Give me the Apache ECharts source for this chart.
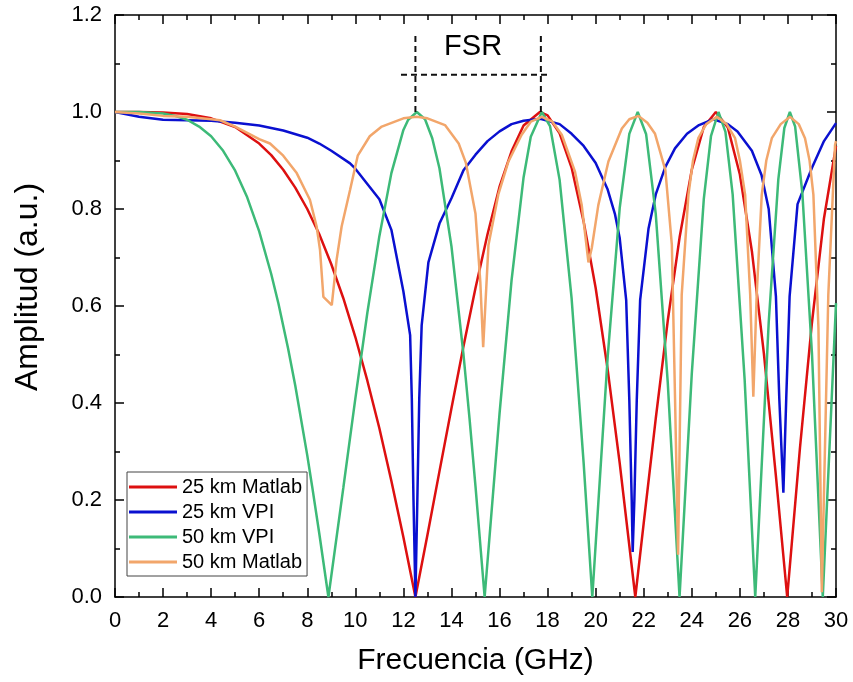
<!DOCTYPE html>
<html>
<head>
<meta charset="utf-8">
<script src="https://cdn.jsdelivr.net/npm/echarts@6/dist/echarts.min.js"></script>
<style>
  html, body { margin: 0; padding: 0; background: #fff; }
  #main { width: 853px; height: 682px; }
</style>
</head>
<body>
<div id="main"></div>
<script>
// datos
var names = ['25 km Matlab', '25 km VPI', '50 km VPI', '50 km Matlab'];

var fRed = [0,1,2,3,4,5,6,6.5,7,7.5,8,8.5,9,9.5,10,10.5,11,11.5,12,12.5,13,13.5,14,14.5,15,15.5,16,16.5,17,17.68,18,18.5,19,19.5,20,20.5,21,21.65,22,22.5,23,23.5,24,24.5,25,25.5,26,26.5,27,27.5,27.97,28.5,29,29.5,30];
var aRed = [1,1,0.999,0.996,0.987,0.969,0.935,0.911,0.881,0.844,0.800,0.748,0.686,0.616,0.536,0.446,0.348,0.239,0.123,0,0.128,0.259,0.389,0.517,0.637,0.748,0.846,0.919,0.972,1.0,0.993,0.956,0.885,0.774,0.637,0.469,0.276,0,0.153,0.368,0.570,0.744,0.881,0.969,1.0,0.968,0.871,0.713,0.502,0.249,0,0.307,0.566,0.781,0.930];

var fBlue = [0,1,2,3,4,5,6,7,8,8.5,9,9.78,10,11,11.5,12,12.28,12.35,12.42,12.5,12.58,12.66,12.76,13.04,13.5,14,14.5,15,15.5,16,16.5,17,17.7,18.5,19,19.5,20,20.5,20.8,21.0,21.27,21.4,21.5,21.54,21.61,21.71,21.85,22.2,22.5,22.9,23.3,23.8,24.3,24.9,25.5,25.9,26.5,26.9,27.2,27.5,27.64,27.81,27.93,28.07,28.4,29,29.5,30];
var aBlue = [1,0.99,0.984,0.983,0.982,0.978,0.972,0.962,0.947,0.935,0.92,0.894,0.883,0.82,0.757,0.63,0.54,0.41,0.2,0,0.2,0.41,0.56,0.69,0.77,0.822,0.88,0.912,0.94,0.96,0.975,0.982,0.986,0.975,0.955,0.93,0.895,0.84,0.79,0.74,0.612,0.406,0.2,0.093,0.2,0.406,0.612,0.76,0.83,0.887,0.925,0.955,0.973,0.985,0.975,0.96,0.92,0.87,0.8,0.62,0.41,0.215,0.41,0.62,0.81,0.885,0.94,0.977];

var fGreen = [0,1,2,2.5,3,3.5,4,4.5,5,5.5,6,6.5,6.8,7.2,7.5,8,8.2,8.5,8.88,9.5,10,10.5,11,11.5,12,12.2,12.56,12.9,13.2,13.5,14,14.5,14.75,15,15.38,16,16.5,17,17.3,17.76,18.1,18.5,19,19.5,19.86,20.5,21,21.4,21.75,22.1,22.5,23,23.49,24,24.5,24.8,25.11,25.4,25.7,26.2,26.64,27.2,27.6,27.85,28.08,28.3,28.6,29,29.45,30];
var aGreen = [1,1.0,0.997,0.992,0.984,0.970,0.950,0.920,0.879,0.824,0.754,0.666,0.605,0.513,0.436,0.292,0.229,0.131,0,0.225,0.409,0.586,0.744,0.874,0.963,0.984,1.0,0.985,0.946,0.884,0.723,0.500,0.369,0.228,0,0.378,0.653,0.865,0.949,1.0,0.971,0.860,0.615,0.276,0,0.495,0.802,0.955,1.0,0.954,0.790,0.442,0,0.461,0.821,0.951,1.0,0.959,0.830,0.447,0,0.566,0.861,0.967,1.0,0.970,0.833,0.502,0,0.606];

var fOrange = [0,1,2,3,4,4.37,5,6,6.45,7,7.56,8.11,8.39,8.53,8.67,9.02,9.22,9.43,9.78,10.1,10.6,11.1,12.0,12.55,13.0,13.73,14.3,14.6,15.0,15.2,15.32,15.54,15.95,16.37,16.92,17.3,17.76,18.2,18.59,19.14,19.42,19.7,19.84,20.11,20.53,21.09,21.4,21.78,22.15,22.47,22.9,23.17,23.3,23.43,23.58,23.86,24.05,24.27,24.6,25.04,25.45,25.8,26.0,26.22,26.43,26.56,26.7,26.91,27.1,27.33,27.7,28.09,28.45,28.71,28.9,29.06,29.27,29.41,29.68,29.96,30];
var aOrange = [1,0.997,0.992,0.99,0.985,0.983,0.97,0.944,0.935,0.91,0.874,0.819,0.764,0.716,0.619,0.602,0.695,0.764,0.839,0.91,0.95,0.97,0.987,0.99,0.987,0.973,0.935,0.895,0.79,0.65,0.515,0.726,0.83,0.898,0.953,0.98,0.99,0.98,0.953,0.877,0.808,0.69,0.72,0.808,0.898,0.966,0.985,0.992,0.978,0.955,0.88,0.726,0.416,0.087,0.623,0.829,0.9,0.946,0.975,0.99,0.975,0.946,0.9,0.829,0.623,0.413,0.623,0.829,0.9,0.946,0.975,0.99,0.975,0.946,0.9,0.829,0.554,0.01,0.623,0.932,0.94];

// anotacion FSR
var fsrX = [12.5, 17.72];
var fsrYBottom = 1.0, fsrYTop = 1.165;
var fsrArrowY = 1.077;
var fsrSpan = [11.9, 18.1];
var fsrLabelPos = [14.9, 1.135];

var colors = ['#dd1010', '#0a10d0', '#3dba78', '#f2a66b'];
var font = 'Liberation Sans, Arial, sans-serif';

function pairs(xs, ys) {
    return xs.map(function (x, i) { return [x, ys[i]]; });
}

var myChart = echarts.init(document.getElementById('main'));

var dash = { color: '#111', width: 2, type: [6, 4] };

var curves = [[fRed, aRed], [fBlue, aBlue], [fGreen, aGreen], [fOrange, aOrange]].map(function (c, i) {
    return {
        name: names[i],
        type: 'line',
        symbol: 'none',
        data: pairs(c[0], c[1]),
        lineStyle: { color: colors[i], width: 2.5 },
        itemStyle: { color: colors[i] },
        silent: true
    };
});

var fsrSeries = [
    { type: 'line', symbol: 'none', silent: true, lineStyle: dash, data: [[fsrX[0], fsrYBottom], [fsrX[0], fsrYTop]] },
    { type: 'line', symbol: 'none', silent: true, lineStyle: dash, data: [[fsrX[1], fsrYBottom], [fsrX[1], fsrYTop]] },
    {
        type: 'line', symbol: 'none', silent: true, lineStyle: dash,
        data: [[fsrSpan[0], fsrArrowY], [fsrSpan[1], fsrArrowY]],
        markPoint: {
            silent: true,
            symbol: 'circle',
            symbolSize: 0,
            data: [{ coord: fsrLabelPos }],
            label: { show: true, position: 'inside', formatter: 'FSR', color: '#000', fontSize: 29, fontFamily: font }
        }
    }
];

var axisLine = { show: true, onZero: false, lineStyle: { color: '#000', width: 1.5 } };
var tick = { show: true, inside: true, length: 9, lineStyle: { color: '#000', width: 1.5 } };
var minor = { show: true, splitNumber: 2, length: 5, lineStyle: { color: '#000', width: 1.5 } };

var option = {
    animation: false,
    textStyle: { fontFamily: font },
    grid: { left: 115, right: 17, top: 15, bottom: 85 },
    legend: {
        data: names,
        orient: 'vertical',
        left: 127,
        top: 472,
        icon: 'rect',
        itemWidth: 48,
        itemHeight: 3,
        itemGap: 5,
        padding: [5, 5, 4, 2],
        borderColor: '#444',
        borderWidth: 1,
        borderRadius: 0,
        backgroundColor: '#fff',
        textStyle: { fontSize: 20, color: '#000', fontFamily: font },
        selectedMode: false
    },
    xAxis: [
        {
            type: 'value', min: 0, max: 30, interval: 2,
            name: 'Frecuencia (GHz)', nameLocation: 'middle', nameGap: 49,
            nameTextStyle: { fontSize: 30, color: '#000', fontFamily: font },
            axisLine: axisLine, axisTick: tick, minorTick: minor,
            axisLabel: { fontSize: 22, color: '#000', margin: 13, fontFamily: font },
            splitLine: { show: false }
        },
        {
            type: 'value', min: 0, max: 30, interval: 2, position: 'top',
            axisLine: axisLine, axisTick: tick, minorTick: minor,
            axisLabel: { show: false }, splitLine: { show: false }
        }
    ],
    yAxis: [
        {
            type: 'value', min: 0, max: 1.2, interval: 0.2,
            name: 'Amplitud (a.u.)', nameLocation: 'middle', nameGap: 71,
            nameTextStyle: { fontSize: 32, color: '#000', fontFamily: font, padding: [0, 0, 0, 38] },
            axisLine: axisLine, axisTick: tick, minorTick: minor,
            axisLabel: { fontSize: 22, color: '#000', margin: 13, fontFamily: font,
                formatter: function (v) { return v.toFixed(1); } },
            splitLine: { show: false }
        },
        {
            type: 'value', min: 0, max: 1.2, interval: 0.2, position: 'right',
            axisLine: axisLine, axisTick: tick, minorTick: minor,
            axisLabel: { show: false }, splitLine: { show: false }
        }
    ],
    series: curves.concat(fsrSeries)
};

myChart.setOption(option);

window.addEventListener('resize', function () {
    myChart.resize();
});
</script>
</body>
</html>
